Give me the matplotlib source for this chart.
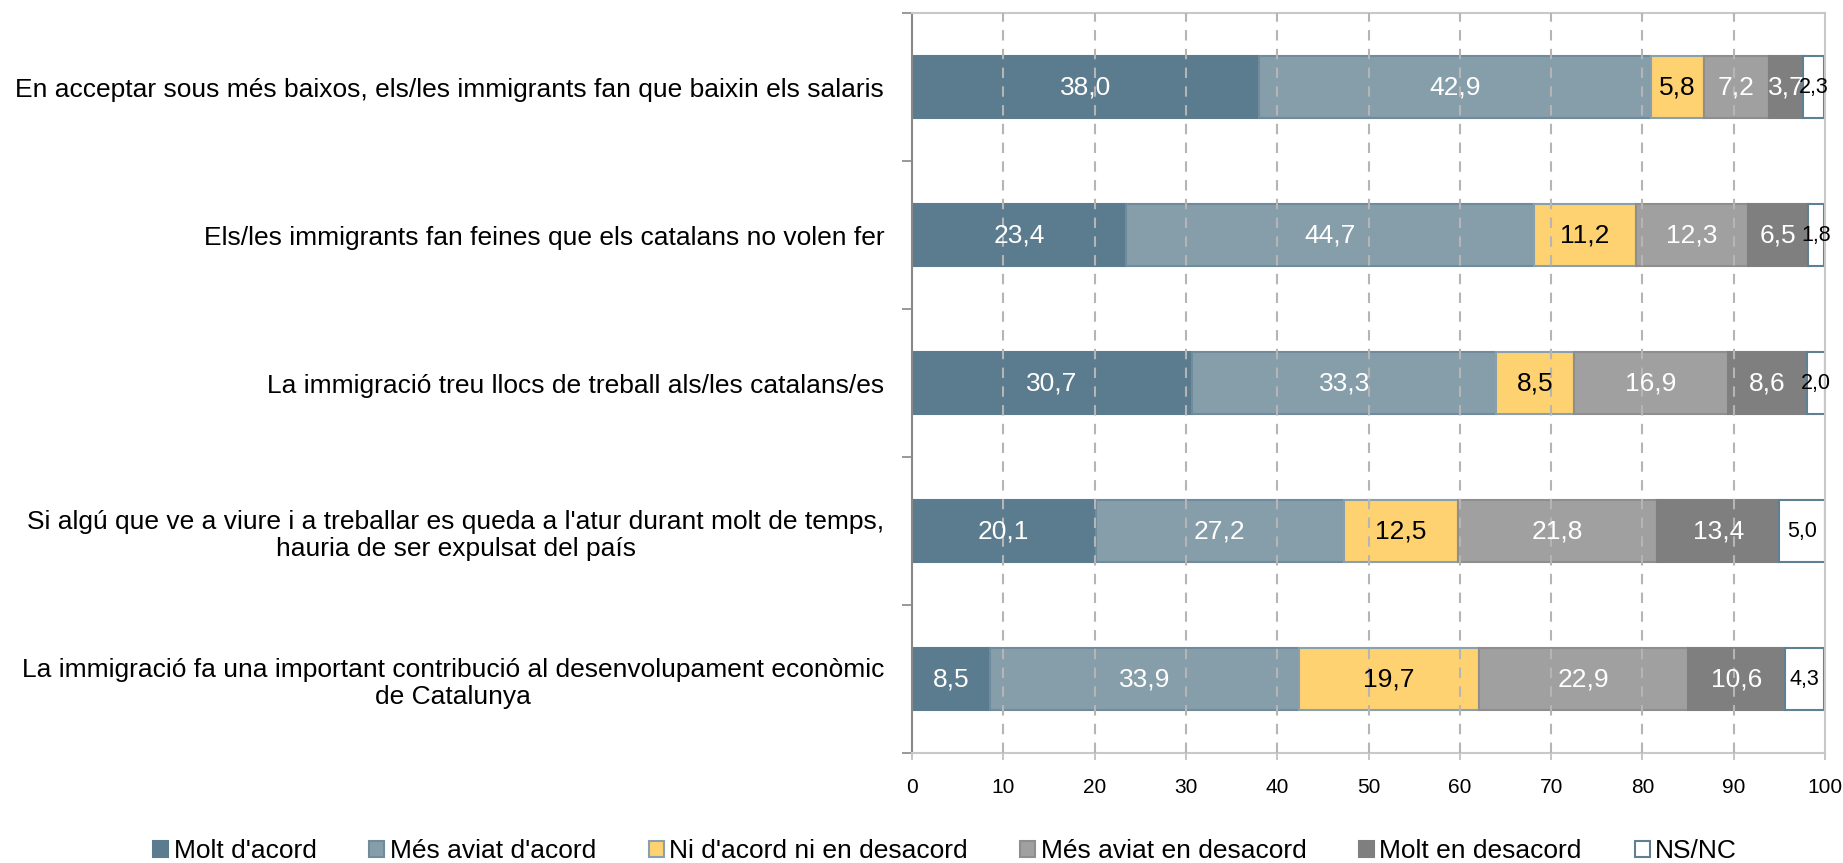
import matplotlib
matplotlib.use("Agg")
import matplotlib.pyplot as plt
import numpy as np
from matplotlib.patches import Patch

plt.rcParams['font.family'] = ['Liberation Sans', 'DejaVu Sans']

categories = [
    "En acceptar sous més baixos, els/les immigrants fan que baixin els salaris",
    "Els/les immigrants fan feines que els catalans no volen fer",
    "La immigració treu llocs de treball als/les catalans/es",
    "Si algú que ve a viure i a treballar es queda a l'atur durant molt de temps,\nhauria de ser expulsat del país",
    "La immigració fa una important contribució al desenvolupament econòmic\nde Catalunya",
]
series_names = ["Molt d'acord", "Més aviat d'acord", "Ni d'acord ni en desacord",
                "Més aviat en desacord", "Molt en desacord", "NS/NC"]
molt_acord = [38.0, 23.4, 30.7, 20.1, 8.5]
mes_aviat_acord = [42.9, 44.7, 33.3, 27.2, 33.9]
ni_ni = [5.8, 11.2, 8.5, 12.5, 19.7]
mes_aviat_desacord = [7.2, 12.3, 16.9, 21.8, 22.9]
molt_desacord = [3.7, 6.5, 8.6, 13.4, 10.6]
ns_nc = [2.3, 1.8, 2.0, 5.0, 4.3]
series = [molt_acord, mes_aviat_acord, ni_ni, mes_aviat_desacord, molt_desacord, ns_nc]
xticks = [0, 10, 20, 30, 40, 50, 60, 70, 80, 90, 100]

colors = ['#5B7B8E', '#869DAA', '#FED270', '#A0A0A0', '#7F7F7F', '#FFFFFF']
edges = ['#5B7B8E', '#6F8B9C', '#8AA0AD', '#8E8E8E', '#7F7F7F', '#5F7F92']
txtcol = ['white', 'white', 'black', 'white', 'white', 'black']
txtsize = [19, 19, 19, 19, 19, 15.5]

fig = plt.figure(figsize=(18.43, 8.63), dpi=100)
ax = fig.add_axes([912/1843, 1-753/863, (1825-912)/1843, (753-13)/863])

y = np.arange(len(categories))
left = np.zeros(len(categories))
for i, vals in enumerate(series):
    vals = np.array(vals)
    ax.barh(y, vals, left=left, height=0.42, color=colors[i], edgecolor=edges[i],
            linewidth=1.5, zorder=2, label=series_names[i])
    for j, v in enumerate(vals):
        ax.text(left[j] + v/2, y[j], f"{v:.1f}".replace('.', ','), ha='center', va='center',
                color=txtcol[i], fontsize=txtsize[i], zorder=5)
    left += vals

ax.set_xlim(0, 100)
ax.set_ylim(4.5, -0.5)
ax.set_xticks(xticks)
ax.set_xticklabels([str(t) for t in xticks], fontsize=15)
ax.set_yticks(y)
ax.set_yticklabels(categories, fontsize=19, multialignment='center')
ax.set_yticks(np.arange(-0.5, 5, 1), minor=True)
ax.tick_params(axis='y', which='major', length=0, pad=20)
ax.tick_params(axis='y', which='minor', length=7, width=1.2, color='#888888')
ax.tick_params(axis='x', which='major', length=5, width=1.2, color='#BBBBBB', pad=13)

for x in xticks[1:-1]:
    ax.axvline(x, color='#B5B5B5', linewidth=1.5, dashes=(5, 4), zorder=3)

ax.spines['left'].set_color('#888888')
ax.spines['left'].set_linewidth(1.5)
for s in ['top', 'right', 'bottom']:
    ax.spines[s].set_color('#C8C8C8')
    ax.spines[s].set_linewidth(1.5)

handles = [Patch(facecolor=colors[i], edgecolor=edges[i], linewidth=1.5) for i in range(6)]
fig.legend(handles, series_names, loc='center', bbox_to_anchor=(945/1843, 1-851/863), ncol=6,
           frameon=False, fontsize=19, handlelength=0.57, handleheight=0.57,
           handletextpad=0.2, columnspacing=2.0, borderpad=0.1)

fig.savefig("out.png", dpi=100)
